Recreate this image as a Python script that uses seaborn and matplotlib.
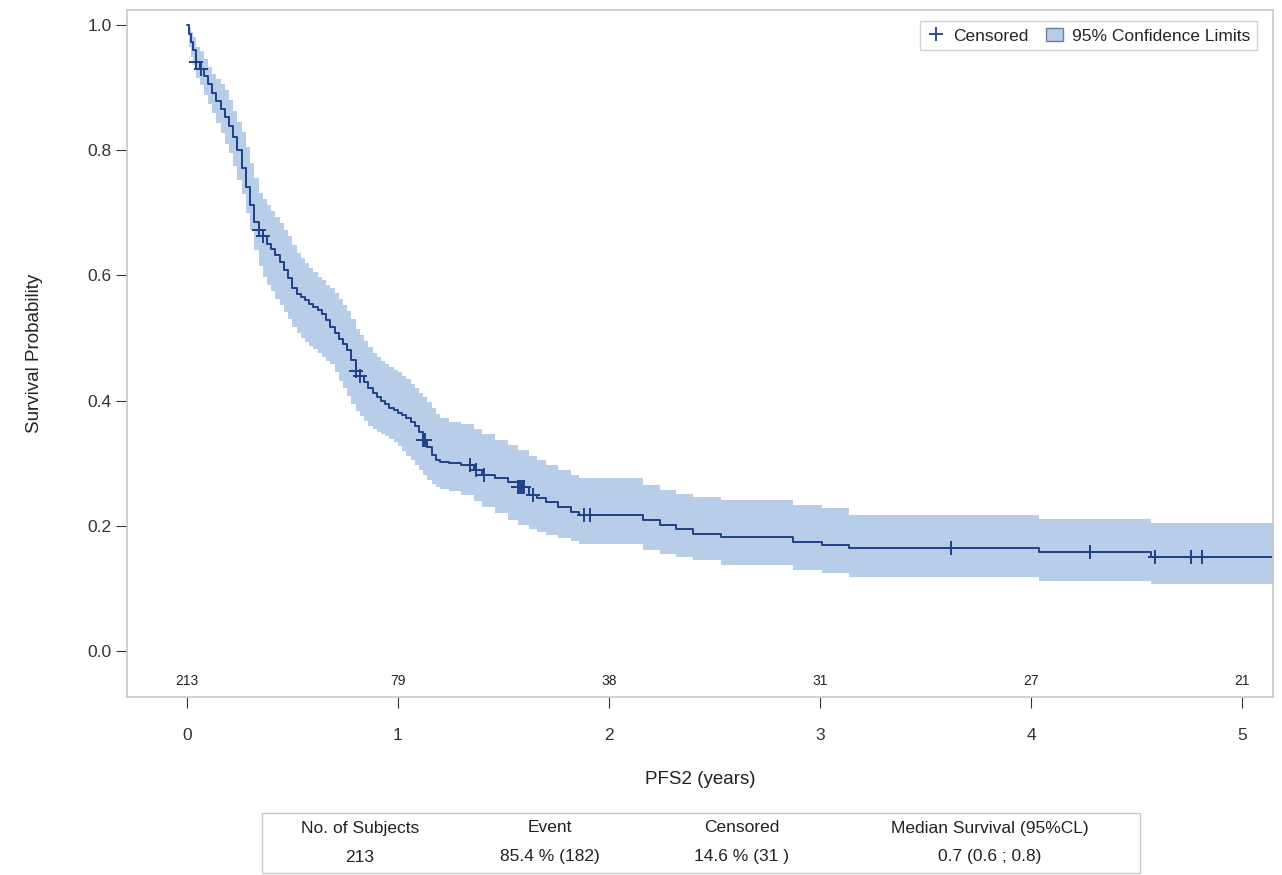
import matplotlib
matplotlib.use("Agg")
import matplotlib.pyplot as plt
import matplotlib.transforms as mtransforms
from matplotlib.lines import Line2D
from matplotlib.patches import Patch, Rectangle
import pandas as pd
import seaborn as sns

# --- KM estimate (years, survival, 95% CL)
times = [0.00, 0.01, 0.02, 0.03, 0.045, 0.06, 0.08, 0.10, 0.12, 0.14, 0.16, 0.18, 0.20, 0.22,
         0.24, 0.26, 0.28, 0.30, 0.32, 0.34, 0.36, 0.38, 0.40, 0.42, 0.44, 0.46, 0.48, 0.50,
         0.52, 0.54, 0.56, 0.58, 0.60, 0.62, 0.64, 0.66, 0.68, 0.70, 0.72, 0.74, 0.76, 0.78,
         0.80, 0.82, 0.84, 0.86, 0.88, 0.90, 0.92, 0.94, 0.96, 0.98, 1.00, 1.02, 1.04, 1.06,
         1.08, 1.10, 1.12, 1.14, 1.16, 1.18, 1.20, 1.24, 1.30, 1.36, 1.40, 1.46, 1.52, 1.57,
         1.62, 1.66, 1.70, 1.76, 1.82, 1.86, 2.16, 2.24, 2.32, 2.40, 2.53, 2.87, 3.01, 3.14,
         4.04, 4.57, 5.15]
surv = [1.000, 0.985, 0.972, 0.960, 0.940, 0.930, 0.918, 0.905, 0.891, 0.878, 0.865, 0.853, 0.838, 0.820,
        0.800, 0.772, 0.741, 0.712, 0.685, 0.673, 0.662, 0.650, 0.642, 0.633, 0.622, 0.608, 0.595, 0.580,
        0.570, 0.565, 0.560, 0.555, 0.550, 0.545, 0.538, 0.528, 0.518, 0.508, 0.498, 0.490, 0.481, 0.465,
        0.448, 0.440, 0.430, 0.420, 0.412, 0.406, 0.400, 0.394, 0.389, 0.385, 0.381, 0.377, 0.372, 0.366,
        0.360, 0.350, 0.338, 0.326, 0.314, 0.306, 0.302, 0.300, 0.298, 0.290, 0.282, 0.276, 0.270, 0.262,
        0.250, 0.244, 0.238, 0.230, 0.222, 0.217, 0.209, 0.201, 0.195, 0.188, 0.182, 0.174, 0.169, 0.165,
        0.158, 0.150, 0.150]
upper = [1.000, 0.995, 0.988, 0.980, 0.965, 0.958, 0.945, 0.933, 0.922, 0.913, 0.905, 0.895, 0.880, 0.862,
         0.845, 0.828, 0.805, 0.780, 0.755, 0.732, 0.722, 0.712, 0.703, 0.693, 0.683, 0.673, 0.662, 0.648,
         0.636, 0.628, 0.620, 0.612, 0.605, 0.598, 0.592, 0.585, 0.580, 0.572, 0.563, 0.553, 0.543, 0.530,
         0.515, 0.505, 0.495, 0.485, 0.476, 0.470, 0.464, 0.459, 0.454, 0.449, 0.445, 0.440, 0.434, 0.427,
         0.420, 0.413, 0.406, 0.398, 0.388, 0.378, 0.372, 0.366, 0.362, 0.355, 0.346, 0.338, 0.330, 0.322,
         0.312, 0.305, 0.298, 0.290, 0.282, 0.276, 0.265, 0.257, 0.251, 0.246, 0.241, 0.233, 0.228, 0.217,
         0.211, 0.205, 0.205]
lower = [1.000, 0.965, 0.948, 0.935, 0.915, 0.903, 0.888, 0.873, 0.859, 0.843, 0.827, 0.810, 0.795, 0.775,
         0.752, 0.730, 0.700, 0.672, 0.640, 0.615, 0.598, 0.585, 0.575, 0.563, 0.553, 0.542, 0.530, 0.518,
         0.508, 0.500, 0.494, 0.488, 0.482, 0.476, 0.470, 0.464, 0.458, 0.445, 0.432, 0.420, 0.408, 0.395,
         0.383, 0.375, 0.367, 0.360, 0.354, 0.350, 0.346, 0.343, 0.339, 0.334, 0.328, 0.320, 0.312, 0.305,
         0.298, 0.290, 0.282, 0.274, 0.267, 0.262, 0.259, 0.256, 0.250, 0.240, 0.230, 0.220, 0.210, 0.202,
         0.195, 0.190, 0.186, 0.181, 0.176, 0.172, 0.161, 0.155, 0.150, 0.145, 0.137, 0.129, 0.125, 0.118,
         0.112, 0.107, 0.107]

censor_t = [0.045, 0.065, 0.34, 0.36, 0.80, 0.82, 1.12, 1.13, 1.34, 1.37, 1.41, 1.57, 1.58, 1.59,
            1.60, 1.64, 1.88, 1.91, 3.62, 4.28, 4.59, 4.76, 4.81]
censor_s = [0.940, 0.930, 0.673, 0.662, 0.448, 0.440, 0.338, 0.338, 0.298, 0.290, 0.282, 0.262, 0.262, 0.262,
            0.262, 0.250, 0.217, 0.217, 0.165, 0.158, 0.150, 0.150, 0.150]

risk_t = [0, 1, 2, 3, 4, 5]
at_risk = ["213", "79", "38", "31", "27", "21"]

table_head = ["No. of Subjects", "Event", "Censored", "Median Survival (95%CL)"]
table_vals = ["213", "85.4 % (182)", "14.6 % (31 )", "0.7 (0.6 ; 0.8)"]

line_c = "#1f4189"
band_c = "#b8cde8"

sns.set_theme(style="white")
plt.rcParams["font.family"] = ["Liberation Sans", "DejaVu Sans"]

km = pd.DataFrame({"t": times, "s": surv, "lo": lower, "hi": upper})
cens = pd.DataFrame({"t": censor_t, "s": censor_s})

fig = plt.figure(figsize=(12.82, 8.75), dpi=100)
ax = fig.add_axes([0.099, 0.203, 0.894, 0.786])

ax.fill_between(km["t"], km["lo"], km["hi"], step="post", color=band_c, lw=0)
sns.lineplot(data=km, x="t", y="s", drawstyle="steps-post", color=line_c, lw=1.4,
             estimator=None, ax=ax)
sns.scatterplot(data=cens, x="t", y="s", marker="+", s=90, color=line_c, linewidth=1.4, ax=ax)

ax.set_xlim(-0.284, 5.147)
ax.set_ylim(-0.0735, 1.024)
ax.set_xticks(risk_t)
ax.set_yticks([0.0, 0.2, 0.4, 0.6, 0.8, 1.0])
ax.set_yticklabels(["0.0", "0.2", "0.4", "0.6", "0.8", "1.0"])
ax.tick_params(axis="both", labelsize=12.5, colors="#333333", length=8, width=0.8,
               direction="out", left=True, bottom=True)
ax.tick_params(axis="x", pad=14)
ax.tick_params(axis="y", pad=3)
for sp in ax.spines.values():
    sp.set_color("#c8c8c8")
    sp.set_linewidth(1.2)

ax.set_xlabel("PFS2 (years)", fontsize=13.5, color="#222222", labelpad=20)
ax.set_ylabel("Survival Probability", fontsize=13.5, color="#222222", labelpad=32)

# numbers at risk inside the plot area
tr = mtransforms.blended_transform_factory(ax.transData, ax.transAxes)
for t, n in zip(risk_t, at_risk):
    ax.text(t, 0.013, n, transform=tr, ha="center", va="bottom", fontsize=10,
            color="#222222")

handles = [Line2D([], [], marker="+", ls="none", color=line_c, markersize=10, mew=1.3),
           Patch(facecolor=band_c, edgecolor="#6d7f99", lw=1.0)]
leg = ax.legend(handles, ["Censored", "95% Confidence Limits"], loc="upper right", ncol=2,
                fontsize=12.5, frameon=True, fancybox=False, handlelength=1.0,
                handletextpad=0.5, columnspacing=1.0, borderaxespad=0.6,
                bbox_to_anchor=(0.995, 0.998))
leg.get_frame().set_edgecolor("#c8c8c8")
leg.get_frame().set_linewidth(1.0)

# summary table under the plot
fig.patches.append(Rectangle((262 / 1282, 1 - 873 / 875), 878 / 1282, 60 / 875,
                             transform=fig.transFigure, fill=False, ec="#c8c8c8", lw=1.0))
col_x = [360, 550, 742, 990]
for cx, h, v in zip(col_x, table_head, table_vals):
    fig.text(cx / 1282, 1 - 828 / 875, h, ha="center", va="center", fontsize=12.5,
             color="#222222")
    fig.text(cx / 1282, 1 - 857 / 875, v, ha="center", va="center", fontsize=12.5,
             color="#222222")

fig.savefig("out.png", dpi=100)
